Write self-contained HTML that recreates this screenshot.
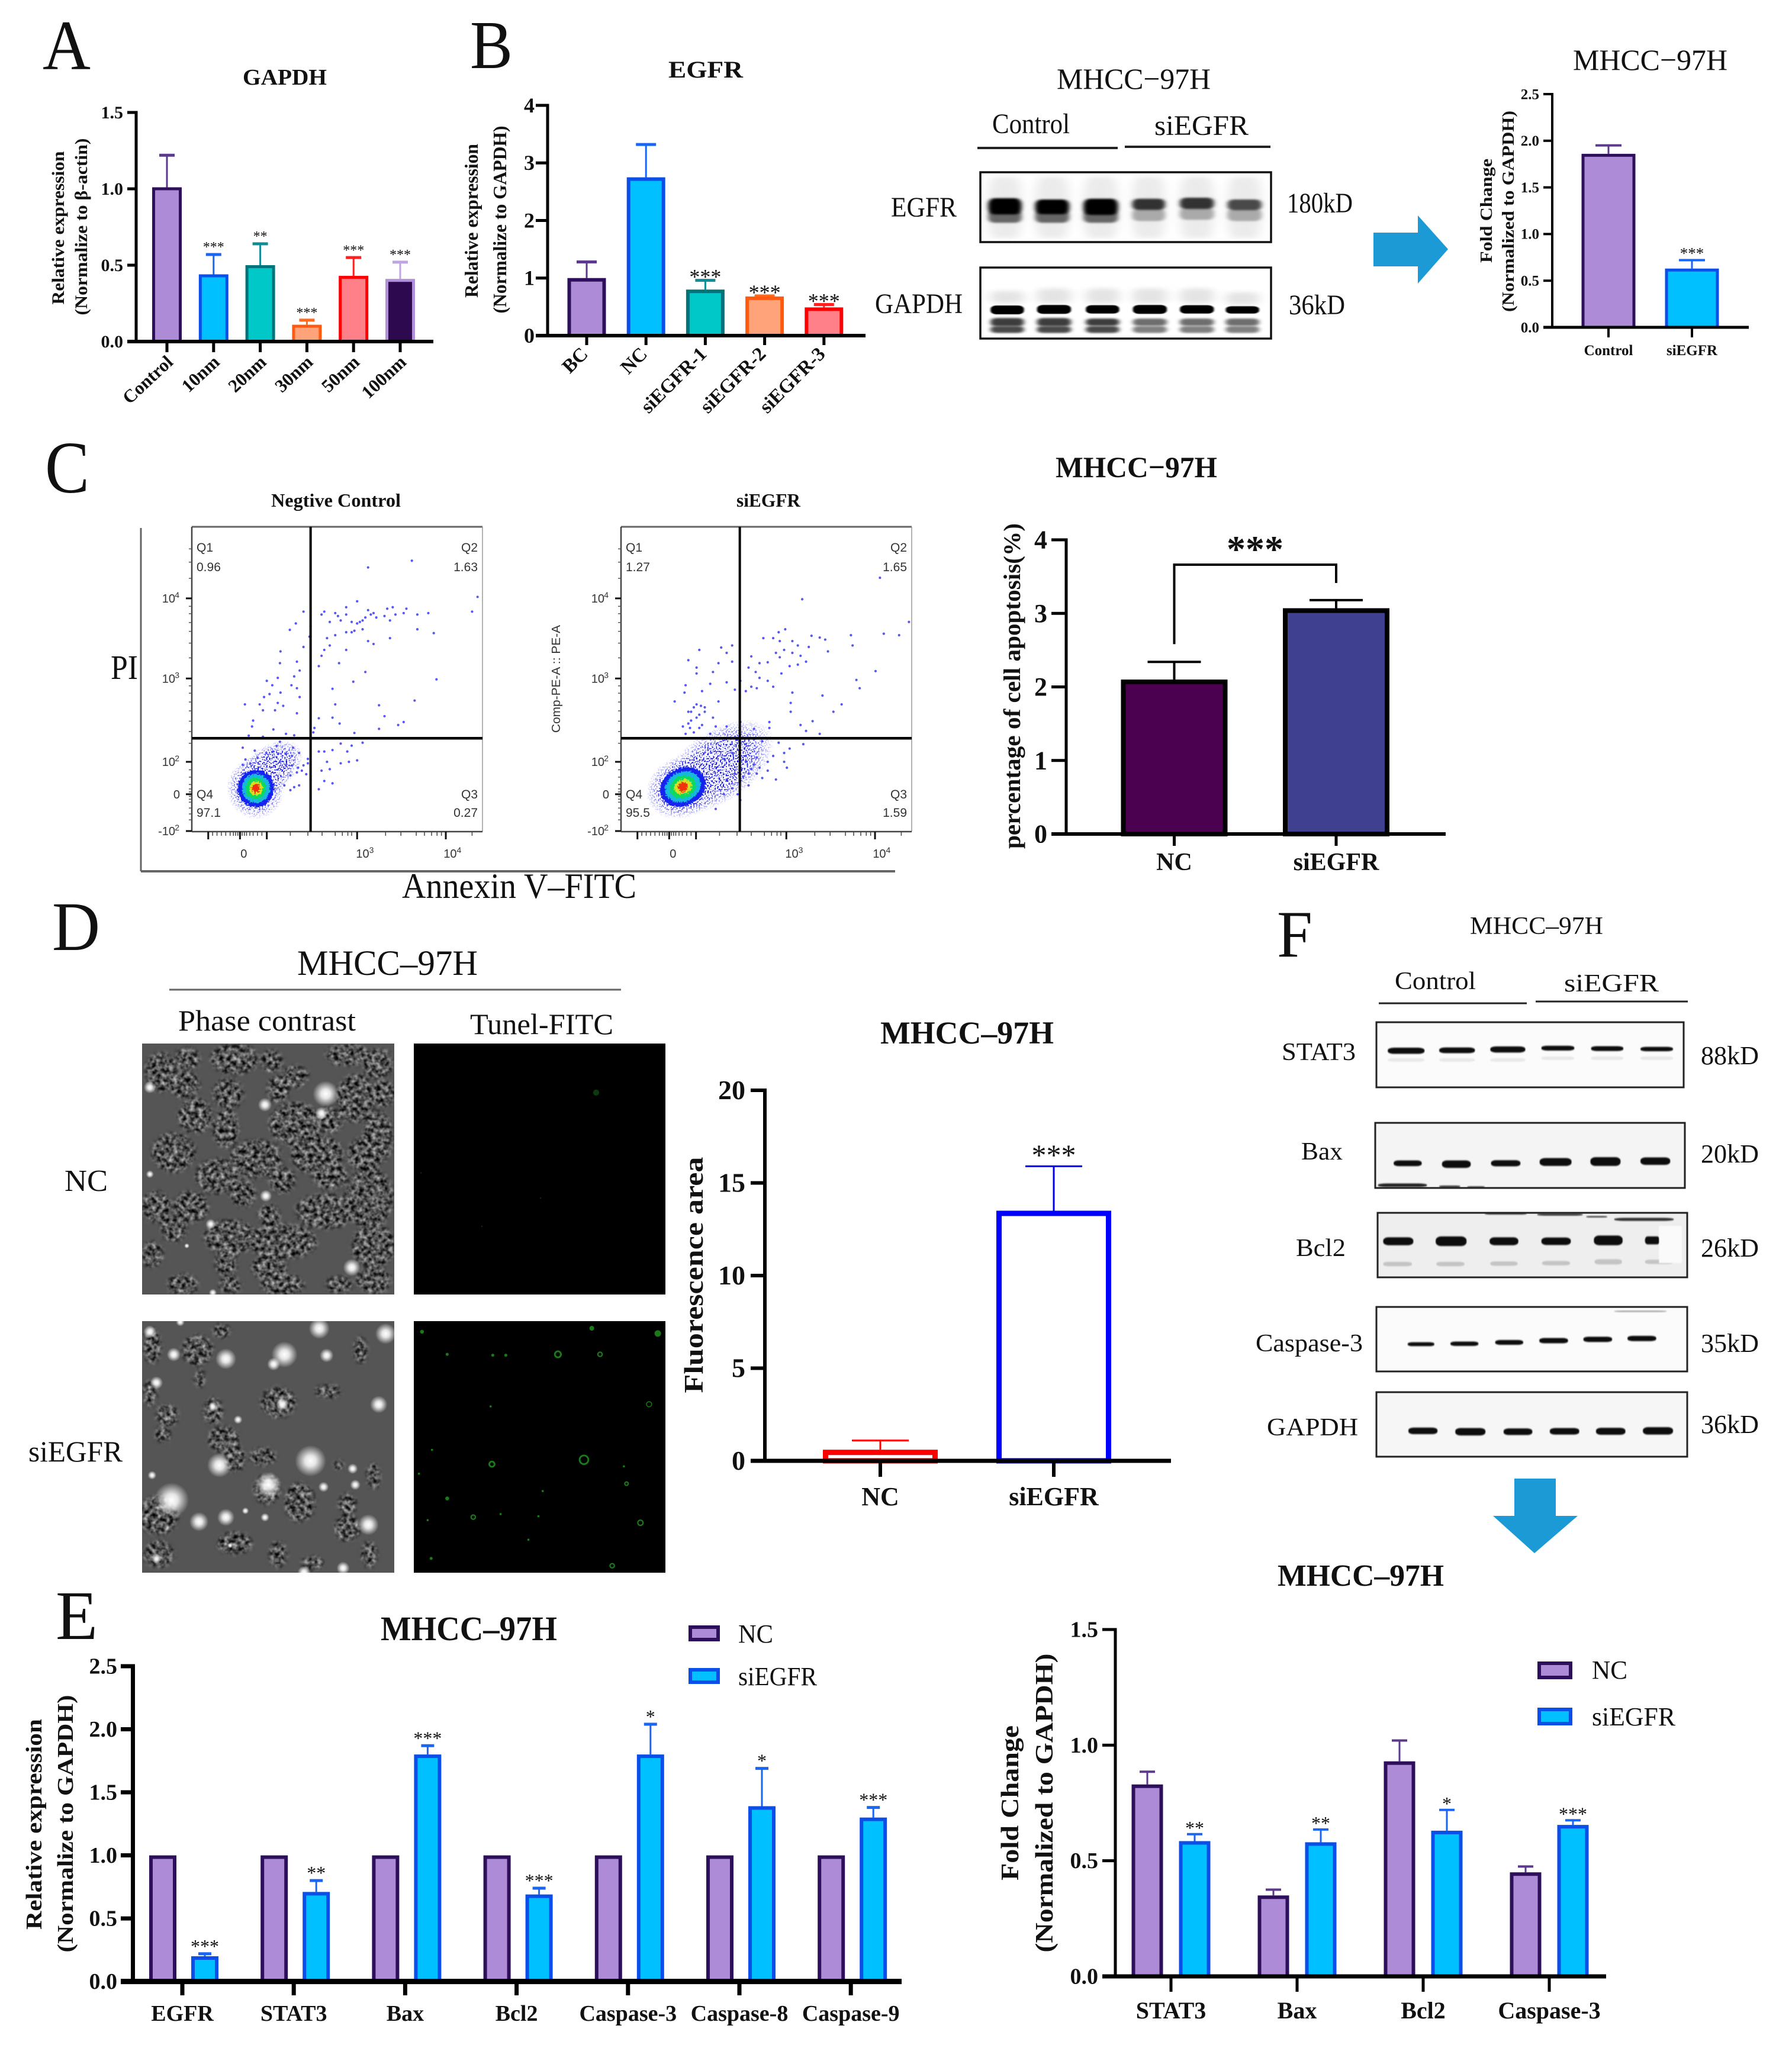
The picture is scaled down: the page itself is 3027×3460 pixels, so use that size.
<!DOCTYPE html>
<html lang="en">
<head>
<meta charset="utf-8">
<title>EGFR knockdown figure, panels A to F</title>
<style>
html,body{margin:0;padding:0;background:#fff;}
svg{display:block;}
text{font-family:"Liberation Serif","Noto Serif CJK SC",serif;fill:#111;}
.sans{font-family:"Liberation Sans",sans-serif;fill:#333;}
.b{font-weight:bold;}
</style>
</head>
<body>
<svg id="figure" xmlns="http://www.w3.org/2000/svg" width="3027" height="3460" viewBox="0 0 3027 3460">
<defs>
  <filter id="b1" x="-30%" y="-60%" width="160%" height="220%"><feGaussianBlur stdDeviation="1.5"/></filter>
  <filter id="b2" x="-30%" y="-80%" width="160%" height="260%"><feGaussianBlur stdDeviation="4"/></filter>
  <filter id="b3" x="-30%" y="-30%" width="160%" height="160%"><feGaussianBlur stdDeviation="9"/></filter>
  <filter id="b6" x="-20%" y="-20%" width="140%" height="140%"><feGaussianBlur stdDeviation="5"/></filter>
  <filter id="cellTex" x="0" y="0" width="100%" height="100%" color-interpolation-filters="sRGB">
    <feTurbulence type="fractalNoise" baseFrequency="0.14" numOctaves="2" seed="7"/>
    <feColorMatrix type="matrix" values="1.3 0 0 0 -0.32  1.3 0 0 0 -0.32  1.3 0 0 0 -0.32  0 0 0 0 1"/>
    <feGaussianBlur stdDeviation="0.8"/>
  </filter>
  <filter id="jag" x="-30%" y="-30%" width="160%" height="160%">
    <feTurbulence type="fractalNoise" baseFrequency="0.4" numOctaves="1" seed="4" result="n"/>
    <feDisplacementMap in="SourceGraphic" in2="n" scale="10" xChannelSelector="R" yChannelSelector="G"/>
  </filter>
  <filter id="speckle" x="-10%" y="-10%" width="120%" height="120%" color-interpolation-filters="sRGB">
    <feTurbulence type="fractalNoise" baseFrequency="0.42" numOctaves="1" seed="9" result="n"/>
    <feColorMatrix in="n" type="matrix" values="0 0 0 0 0  0 0 0 0 0  0 0 0 0 0  10 0 0 0 -5.1" result="m"/>
    <feComposite in="SourceGraphic" in2="m" operator="in"/>
  </filter>
  <radialGradient id="blueFade"><stop offset="0" stop-color="#1414ee"/><stop offset=".55" stop-color="#1414ee"/><stop offset="1" stop-color="#1414ee" stop-opacity="0"/></radialGradient>
  <radialGradient id="glow"><stop offset="0" stop-color="#fff"/><stop offset=".35" stop-color="#fff" stop-opacity=".85"/><stop offset="1" stop-color="#fff" stop-opacity="0"/></radialGradient>
  <mask id="maskNC" maskUnits="userSpaceOnUse" x="240" y="1763" width="426" height="424">
    <g transform="translate(240,1763) scale(.7334) translate(-327,-304)" fill="#fff" filter="url(#b6)">
      <ellipse cx="370" cy="370" rx="35" ry="45"/><ellipse cx="430" cy="340" rx="30" ry="25"/><ellipse cx="540" cy="340" rx="55" ry="35"/><ellipse cx="625" cy="345" rx="25" ry="25"/><ellipse cx="680" cy="380" rx="30" ry="25"/><ellipse cx="800" cy="330" rx="50" ry="25"/><ellipse cx="870" cy="350" rx="35" ry="35"/><ellipse cx="425" cy="400" rx="35" ry="30"/><ellipse cx="525" cy="420" rx="35" ry="35"/><ellipse cx="640" cy="410" rx="25" ry="30"/><ellipse cx="820" cy="430" rx="45" ry="55"/><ellipse cx="880" cy="420" rx="30" ry="30"/><ellipse cx="450" cy="470" rx="40" ry="40"/><ellipse cx="520" cy="500" rx="30" ry="45"/><ellipse cx="680" cy="490" rx="60" ry="50"/><ellipse cx="760" cy="480" rx="30" ry="30"/><ellipse cx="870" cy="520" rx="35" ry="60"/><ellipse cx="400" cy="555" rx="50" ry="45"/><ellipse cx="500" cy="610" rx="50" ry="40"/><ellipse cx="590" cy="570" rx="60" ry="45"/><ellipse cx="730" cy="560" rx="60" ry="45"/><ellipse cx="840" cy="560" rx="40" ry="40"/><ellipse cx="650" cy="620" rx="30" ry="30"/><ellipse cx="760" cy="610" rx="40" ry="30"/><ellipse cx="850" cy="660" rx="55" ry="70"/><ellipse cx="360" cy="680" rx="35" ry="35"/><ellipse cx="440" cy="680" rx="40" ry="35"/><ellipse cx="560" cy="650" rx="30" ry="30"/><ellipse cx="750" cy="690" rx="70" ry="40"/><ellipse cx="620" cy="700" rx="25" ry="25"/><ellipse cx="400" cy="730" rx="30" ry="30"/><ellipse cx="530" cy="750" rx="60" ry="40"/><ellipse cx="650" cy="760" rx="80" ry="40"/><ellipse cx="860" cy="770" rx="50" ry="50"/><ellipse cx="520" cy="810" rx="25" ry="30"/><ellipse cx="620" cy="820" rx="40" ry="30"/><ellipse cx="350" cy="790" rx="25" ry="30"/><ellipse cx="420" cy="860" rx="35" ry="25"/><ellipse cx="530" cy="860" rx="25" ry="20"/><ellipse cx="650" cy="860" rx="50" ry="25"/><ellipse cx="780" cy="860" rx="30" ry="20"/><ellipse cx="860" cy="850" rx="40" ry="30"/>
    </g>
  </mask>
  <mask id="maskSi" maskUnits="userSpaceOnUse" x="240" y="2232" width="426" height="425">
    <g transform="translate(240,2232) scale(.7334) translate(-327,-943)" fill="#fff" filter="url(#b6)">
      <ellipse cx="455" cy="1010" rx="35" ry="35"/><ellipse cx="350" cy="1000" rx="20" ry="40"/><ellipse cx="510" cy="965" rx="20" ry="15"/><ellipse cx="830" cy="1010" rx="15" ry="30"/><ellipse cx="640" cy="1130" rx="40" ry="35"/><ellipse cx="755" cy="1105" rx="30" ry="15"/><ellipse cx="490" cy="1150" rx="22" ry="30"/><ellipse cx="345" cy="1110" rx="15" ry="30"/><ellipse cx="385" cy="1160" rx="25" ry="25"/><ellipse cx="515" cy="1215" rx="35" ry="30"/><ellipse cx="375" cy="1205" rx="18" ry="18"/><ellipse cx="540" cy="1260" rx="25" ry="30"/><ellipse cx="605" cy="1255" rx="30" ry="20"/><ellipse cx="615" cy="1330" rx="30" ry="35"/><ellipse cx="690" cy="1360" rx="35" ry="45"/><ellipse cx="800" cy="1365" rx="20" ry="25"/><ellipse cx="860" cy="1300" rx="15" ry="30"/><ellipse cx="780" cy="1275" rx="12" ry="10"/><ellipse cx="365" cy="1390" rx="45" ry="45"/><ellipse cx="540" cy="1455" rx="40" ry="25"/><ellipse cx="365" cy="1480" rx="35" ry="30"/><ellipse cx="800" cy="1420" rx="30" ry="30"/><ellipse cx="850" cy="1480" rx="18" ry="30"/><ellipse cx="640" cy="1480" rx="20" ry="30"/><ellipse cx="720" cy="1500" rx="25" ry="15"/><ellipse cx="460" cy="1075" rx="12" ry="20"/>
    </g>
  </mask>
</defs>

<rect width="3027" height="3460" fill="#fff"/>

<!-- panel letters -->
<text x="72" y="117" font-size="120" textLength="81" lengthAdjust="spacingAndGlyphs">A</text>
<text x="794" y="115" font-size="115" textLength="72" lengthAdjust="spacingAndGlyphs">B</text>
<text x="76" y="832" font-size="125" textLength="75" lengthAdjust="spacingAndGlyphs">C</text>
<text x="88" y="1605" font-size="118" textLength="81" lengthAdjust="spacingAndGlyphs">D</text>
<text x="94" y="2769" font-size="118" textLength="71" lengthAdjust="spacingAndGlyphs">E</text>
<text x="2157" y="1616" font-size="112" textLength="60" lengthAdjust="spacingAndGlyphs">F</text>

<!-- panel A / B static text -->
<text class="b" x="410" y="143" font-size="38" textLength="142" lengthAdjust="spacingAndGlyphs">GAPDH</text>
<text class="b" x="1129" y="131" font-size="40" textLength="126" lengthAdjust="spacingAndGlyphs">EGFR</text>
<text class="b" text-anchor="middle" font-size="30" textLength="259" lengthAdjust="spacingAndGlyphs" transform="translate(108,385) rotate(-90)">Relative expression</text>
<text class="b" text-anchor="middle" font-size="30" textLength="299" lengthAdjust="spacingAndGlyphs" transform="translate(147,383) rotate(-90)">(Normalize to β-actin)</text>
<text class="b" text-anchor="middle" font-size="32" textLength="260" lengthAdjust="spacingAndGlyphs" transform="translate(807,373) rotate(-90)">Relative expression</text>
<text class="b" text-anchor="middle" font-size="32" textLength="317" lengthAdjust="spacingAndGlyphs" transform="translate(855,371) rotate(-90)">(Normalize to GAPDH)</text>

<!-- western blot, panel B -->
<text x="1785" y="150" font-size="50" textLength="260" lengthAdjust="spacingAndGlyphs">MHCC−97H</text>
<text x="1676" y="225" font-size="48" textLength="131" lengthAdjust="spacingAndGlyphs">Control</text>
<text x="1950" y="228" font-size="48" textLength="159" lengthAdjust="spacingAndGlyphs">siEGFR</text>
<line x1="1651" y1="250" x2="1888" y2="250" stroke="#222" stroke-width="4"/>
<line x1="1900" y1="248" x2="2146" y2="248" stroke="#222" stroke-width="4"/>
<rect x="1656" y="291" width="491" height="118" fill="#fff"/>
<rect x="1656" y="452" width="491" height="120" fill="#fff"/>
<g id="blotB" transform="translate(1450,50) scale(1.00573,0.41467)"></g>
<rect x="1656" y="291" width="491" height="118" fill="none" stroke="#111" stroke-width="3.5"/>
<rect x="1656" y="452" width="491" height="120" fill="none" stroke="#111" stroke-width="3.5"/>
<text x="1505" y="366" font-size="48" textLength="111" lengthAdjust="spacingAndGlyphs">EGFR</text>
<text x="1478" y="529" font-size="48" textLength="148" lengthAdjust="spacingAndGlyphs">GAPDH</text>
<text x="2174" y="359" font-size="48" textLength="111" lengthAdjust="spacingAndGlyphs">180kD</text>
<text x="2177" y="531" font-size="48" textLength="95" lengthAdjust="spacingAndGlyphs">36kD</text>
<polygon points="2320,393 2395,393 2395,364 2446,421 2395,479 2395,450 2320,450" fill="#1b9ad6"/>
<text x="2657" y="118" font-size="50" textLength="261" lengthAdjust="spacingAndGlyphs">MHCC−97H</text>
<text class="b" text-anchor="middle" font-size="28" textLength="176" lengthAdjust="spacingAndGlyphs" transform="translate(2520,356) rotate(-90)">Fold Change</text>
<text class="b" text-anchor="middle" font-size="28" textLength="340" lengthAdjust="spacingAndGlyphs" transform="translate(2557,357) rotate(-90)">(Normalized to GAPDH)</text>

<!-- panel C static text -->
<text class="b" x="458" y="856" font-size="32" textLength="219" lengthAdjust="spacingAndGlyphs">Negtive Control</text>
<text class="b" x="1244" y="856" font-size="32" textLength="108" lengthAdjust="spacingAndGlyphs">siEGFR</text>
<text x="187" y="1147" font-size="58" textLength="46" lengthAdjust="spacingAndGlyphs">PI</text>
<text x="679" y="1517" font-size="60" textLength="396" lengthAdjust="spacingAndGlyphs">Annexin V–FITC</text>
<text class="sans" text-anchor="middle" font-size="20" textLength="182" lengthAdjust="spacingAndGlyphs" transform="translate(946,1147) rotate(-90)">Comp-PE-A :: PE-A</text>
<line x1="238" y1="892" x2="238" y2="1472" stroke="#666" stroke-width="3"/>
<line x1="238" y1="1472" x2="1512" y2="1472" stroke="#666" stroke-width="4"/>
<text class="b" x="1783" y="806" font-size="50" textLength="273" lengthAdjust="spacingAndGlyphs">MHCC−97H</text>
<text class="b" text-anchor="middle" font-size="40" textLength="550" lengthAdjust="spacingAndGlyphs" transform="translate(1723,1159) rotate(-90)">percentage of cell apoptosis(%)</text>

<!-- panel D -->
<text x="502" y="1647" font-size="60" textLength="305" lengthAdjust="spacingAndGlyphs">MHCC–97H</text>
<line x1="286" y1="1672" x2="1049" y2="1672" stroke="#666" stroke-width="3"/>
<text x="301" y="1741" font-size="50" textLength="300" lengthAdjust="spacingAndGlyphs">Phase contrast</text>
<text x="794" y="1747" font-size="50" textLength="242" lengthAdjust="spacingAndGlyphs">Tunel-FITC</text>
<text x="109" y="2012" font-size="52" textLength="73" lengthAdjust="spacingAndGlyphs">NC</text>
<text x="48" y="2469" font-size="50" textLength="159" lengthAdjust="spacingAndGlyphs">siEGFR</text>

<g>
  <rect x="240" y="1763" width="426" height="424" fill="#555"/>
  <rect x="240" y="1763" width="426" height="424" filter="url(#cellTex)" mask="url(#maskNC)"/>
  <g transform="translate(240,1763) scale(.7334) translate(-327,-304)" fill="url(#glow)">
    <circle cx="750" cy="420" r="30"/><circle cx="610" cy="445" r="16"/><circle cx="345" cy="405" r="14"/><circle cx="810" cy="820" r="20"/><circle cx="485" cy="720" r="12"/><circle cx="612" cy="655" r="14"/><circle cx="345" cy="605" r="9"/><circle cx="430" cy="770" r="6"/><circle cx="490" cy="878" r="9"/><circle cx="740" cy="465" r="15"/>
  </g>
</g>
<g>
  <rect x="240" y="2232" width="426" height="425" fill="#555"/>
  <rect x="240" y="2232" width="426" height="425" filter="url(#cellTex)" mask="url(#maskSi)"/>
  <g transform="translate(240,2232) scale(.7334) translate(-327,-943)" fill="url(#glow)">
    <circle cx="345" cy="968" r="15"/><circle cx="415" cy="945" r="10"/><circle cx="735" cy="960" r="24"/><circle cx="888" cy="972" r="24"/><circle cx="400" cy="1020" r="16"/><circle cx="520" cy="1030" r="24"/><circle cx="655" cy="1020" r="30"/><circle cx="630" cy="1042" r="15"/><circle cx="752" cy="1022" r="16"/><circle cx="360" cy="1085" r="15"/><circle cx="872" cy="1135" r="20"/><circle cx="490" cy="1140" r="11"/><circle cx="548" cy="1170" r="10"/><circle cx="650" cy="1135" r="15"/><circle cx="715" cy="1265" r="36"/><circle cx="505" cy="1275" r="28"/><circle cx="618" cy="1320" r="30"/><circle cx="395" cy="1355" r="40"/><circle cx="812" cy="1283" r="12"/><circle cx="818" cy="1320" r="12"/><circle cx="745" cy="1325" r="12"/><circle cx="458" cy="1405" r="22"/><circle cx="520" cy="1395" r="20"/><circle cx="848" cy="1412" r="24"/><circle cx="350" cy="1298" r="10"/><circle cx="790" cy="1512" r="15"/><circle cx="700" cy="1522" r="15"/><circle cx="360" cy="1490" r="12"/><circle cx="610" cy="1395" r="10"/><circle cx="565" cy="1380" r="8"/><circle cx="530" cy="1460" r="6"/>
  </g>
</g>
<rect x="699" y="1763" width="425" height="424" fill="#000"/>
<rect x="699" y="2232" width="425" height="425" fill="#000"/>
<g transform="translate(0,1540) scale(.7334)">
  <circle cx="1373" cy="417" r="7" fill="#0c3a0c"/><circle cx="970" cy="602" r="1.5" fill="#0c3a0c"/><circle cx="1245" cy="660" r="1.5" fill="#0c3a0c"/><circle cx="1110" cy="725" r="1.5" fill="#0c3a0c"/>
</g>
<g transform="translate(0,1540) scale(.7334)" fill="#1a7a1a" stroke="#1a7a1a">
  <circle cx="972" cy="968" r="4"/><circle cx="1030" cy="1020" r="3"/><circle cx="1135" cy="1022" r="3"/><circle cx="1165" cy="1022" r="3"/><circle cx="1285" cy="1020" r="7" fill="none" stroke-width="4"/><circle cx="1363" cy="960" r="5"/><circle cx="1515" cy="972" r="7"/><circle cx="1382" cy="1020" r="5" fill="none" stroke-width="3"/><circle cx="1495" cy="1135" r="6" fill="none" stroke-width="2"/><circle cx="1130" cy="1140" r="2"/><circle cx="995" cy="1240" r="2"/><circle cx="1133" cy="1273" r="6" fill="none" stroke-width="4"/><circle cx="1345" cy="1263" r="10" fill="none" stroke-width="4"/><circle cx="1443" cy="1318" r="4" fill="none" stroke-width="3"/><circle cx="1250" cy="1335" r="2"/><circle cx="1030" cy="1352" r="4"/><circle cx="1090" cy="1395" r="5" fill="none" stroke-width="3"/><circle cx="1153" cy="1388" r="2"/><circle cx="1240" cy="1393" r="2"/><circle cx="1475" cy="1408" r="6" fill="none" stroke-width="3"/><circle cx="1217" cy="1447" r="2"/><circle cx="993" cy="1490" r="3"/><circle cx="1410" cy="1507" r="5" fill="none" stroke-width="3"/><circle cx="985" cy="1402" r="2"/><circle cx="1437" cy="1278" r="2"/><circle cx="965" cy="1295" r="2"/>
</g>
<text class="b" x="1487" y="1763" font-size="54" textLength="293" lengthAdjust="spacingAndGlyphs">MHCC–97H</text>
<text class="b" text-anchor="middle" font-size="46" textLength="399" lengthAdjust="spacingAndGlyphs" transform="translate(1187,2154) rotate(-90)">Fluorescence area</text>

<!-- panel E static text -->
<text class="b" x="643" y="2771" font-size="58" textLength="298" lengthAdjust="spacingAndGlyphs">MHCC–97H</text>
<text class="b" text-anchor="middle" font-size="38" textLength="356" lengthAdjust="spacingAndGlyphs" transform="translate(70,3082) rotate(-90)">Relative expression</text>
<text class="b" text-anchor="middle" font-size="38" textLength="435" lengthAdjust="spacingAndGlyphs" transform="translate(123,3081) rotate(-90)">(Normalize to GAPDH)</text>
<rect x="1166" y="2749" width="47" height="21" fill="#ae8bd6" stroke="#2d0f5c" stroke-width="6"/>
<text x="1247" y="2775" font-size="44" textLength="59" lengthAdjust="spacingAndGlyphs">NC</text>
<rect x="1166" y="2821" width="47" height="21" fill="#00c0ff" stroke="#0b4ee8" stroke-width="6"/>
<text x="1247" y="2847" font-size="44" textLength="133" lengthAdjust="spacingAndGlyphs">siEGFR</text>

<!-- panel F blots -->
<text x="2483" y="1578" font-size="42" textLength="225" lengthAdjust="spacingAndGlyphs">MHCC–97H</text>
<text x="2356" y="1671" font-size="42" textLength="137" lengthAdjust="spacingAndGlyphs">Control</text>
<text x="2642" y="1675" font-size="42" textLength="160" lengthAdjust="spacingAndGlyphs">siEGFR</text>
<line x1="2329" y1="1695" x2="2579" y2="1695" stroke="#222" stroke-width="3"/>
<line x1="2594" y1="1692" x2="2851" y2="1692" stroke="#222" stroke-width="3"/>
<rect x="2325" y="1727" width="519" height="110" fill="#fbfbfb"/>
<rect x="2323" y="1897" width="523" height="110" fill="#f4f4f4"/>
<rect x="2327" y="2049" width="523" height="109" fill="#eeeeee"/>
<rect x="2325" y="2208" width="525" height="109" fill="#fbfbfb"/>
<rect x="2325" y="2352" width="525" height="109" fill="#f6f6f6"/>
<g id="blotF" transform="translate(2100,1520) scale(0.5912,0.7398)"></g>
<rect x="2325" y="1727" width="519" height="110" fill="none" stroke="#222" stroke-width="3"/>
<rect x="2323" y="1897" width="523" height="110" fill="none" stroke="#222" stroke-width="3"/>
<rect x="2327" y="2049" width="523" height="109" fill="none" stroke="#222" stroke-width="3"/>
<rect x="2325" y="2208" width="525" height="109" fill="none" stroke="#222" stroke-width="3"/>
<rect x="2325" y="2352" width="525" height="109" fill="none" stroke="#222" stroke-width="3"/>
<text x="2165" y="1791" font-size="42" textLength="125" lengthAdjust="spacingAndGlyphs">STAT3</text>
<text x="2198" y="1959" font-size="42" textLength="70" lengthAdjust="spacingAndGlyphs">Bax</text>
<text x="2189" y="2122" font-size="42" textLength="84" lengthAdjust="spacingAndGlyphs">Bcl2</text>
<text x="2121" y="2283" font-size="42" textLength="181" lengthAdjust="spacingAndGlyphs">Caspase-3</text>
<text x="2140" y="2425" font-size="42" textLength="154" lengthAdjust="spacingAndGlyphs">GAPDH</text>
<text x="2873" y="1798" font-size="44" textLength="98" lengthAdjust="spacingAndGlyphs">88kD</text>
<text x="2873" y="1964" font-size="44" textLength="98" lengthAdjust="spacingAndGlyphs">20kD</text>
<text x="2873" y="2123" font-size="44" textLength="98" lengthAdjust="spacingAndGlyphs">26kD</text>
<text x="2873" y="2284" font-size="44" textLength="98" lengthAdjust="spacingAndGlyphs">35kD</text>
<text x="2873" y="2421" font-size="44" textLength="98" lengthAdjust="spacingAndGlyphs">36kD</text>
<polygon points="2558,2498 2628,2498 2628,2561 2665,2561 2592,2624 2522,2561 2558,2561" fill="#1b9ad6"/>

<!-- panel F chart static text -->
<text class="b" x="2158" y="2679" font-size="52" textLength="281" lengthAdjust="spacingAndGlyphs">MHCC–97H</text>
<text class="b" text-anchor="middle" font-size="42" textLength="262" lengthAdjust="spacingAndGlyphs" transform="translate(1720,3046) rotate(-90)">Fold Change</text>
<text class="b" text-anchor="middle" font-size="42" textLength="505" lengthAdjust="spacingAndGlyphs" transform="translate(1778,3046) rotate(-90)">(Normalized to GAPDH)</text>
<rect x="2600" y="2810" width="53" height="24" fill="#ae8bd6" stroke="#2d0f5c" stroke-width="6"/>
<text x="2689" y="2836" font-size="44" textLength="60" lengthAdjust="spacingAndGlyphs">NC</text>
<rect x="2600" y="2888" width="53" height="24" fill="#00c0ff" stroke="#0b4ee8" stroke-width="6"/>
<text x="2689" y="2915" font-size="44" textLength="141" lengthAdjust="spacingAndGlyphs">siEGFR</text>

<g id="charts"></g>
</svg>

<script>
/* ---------- chart data ---------- */
const aCategories = ['Control','10nm','20nm','30nm','50nm','100nm'];
const aValues = [1.01,0.44,0.50,0.11,0.43,0.41];
const aErrorTops = [1.22,0.57,0.64,0.14,0.55,0.52];
const aSignificance = ['','***','**','***','***','***'];
const aTicks = [0,0.5,1,1.5];
const aTickLabels = ['0.0','0.5','1.0','1.5'];

const bCategories = ['BC','NC','siEGFR-1','siEGFR-2','siEGFR-3'];
const bValues = [1.0,2.75,0.80,0.68,0.49];
const bErrorTops = [1.28,3.32,0.96,0.69,0.54];
const bSignificance = ['','','***','***','***'];
const bTicks = [0,1,2,3,4];
const bTickLabels = ['0','1','2','3','4'];

const foldCategories = ['Control','siEGFR'];
const foldValues = [1.86,0.63];
const foldErrorTops = [1.95,0.72];
const foldSignificance = ['','***'];
const foldTicks = [0,0.5,1,1.5,2,2.5];
const foldTickLabels = ['0.0','0.5','1.0','1.5','2.0','2.5'];

const apoptosisCategories = ['NC','siEGFR'];
const apoptosisValues = [2.10,3.07];
const apoptosisErrorTops = [2.34,3.18];
const apoptosisTicks = [0,1,2,3,4];
const apoptosisTickLabels = ['0','1','2','3','4'];

const fluorCategories = ['NC','siEGFR'];
const fluorValues = [0.6,13.5];
const fluorErrorTops = [1.1,15.9];
const fluorSignificance = ['','***'];
const fluorTicks = [0,5,10,15,20];
const fluorTickLabels = ['0','5','10','15','20'];

const mrnaCategories = ['EGFR','STAT3','Bax','Bcl2','Caspase-3','Caspase-8','Caspase-9'];
const mrnaNC = [1,1,1,1,1,1,1];
const mrnaSi = [0.20,0.71,1.80,0.69,1.80,1.39,1.30];
const mrnaSiErrorTops = [0.22,0.80,1.87,0.74,2.04,1.69,1.38];
const mrnaSignificance = ['***','**','***','***','*','*','***'];
const mrnaTicks = [0,0.5,1,1.5,2,2.5];
const mrnaTickLabels = ['0.0','0.5','1.0','1.5','2.0','2.5'];

const proteinCategories = ['STAT3','Bax','Bcl2','Caspase-3'];
const proteinNC = [0.83,0.35,0.93,0.45];
const proteinNCErrorTops = [0.885,0.375,1.02,0.475];
const proteinSi = [0.585,0.58,0.63,0.655];
const proteinSiErrorTops = [0.615,0.635,0.72,0.675];
const proteinSignificance = ['**','**','*','***'];
const proteinTicks = [0,0.5,1,1.5];
const proteinTickLabels = ['0.0','0.5','1.0','1.5'];

/* flow cytometry: [Annexin channel, PI channel], channels span 0-531 and 0-1035 */
const flowNCEvents = [[322,897],[402,920],[522,797],[512,747],[242,747],[237,737],[262,742],[282,762],[302,782],[322,752],[332,742],[357,757],[367,762],[392,757],[387,742],[412,737],[432,742],[252,712],[272,717],[292,712],[307,712],[317,727],[337,727],[362,717],[412,687],[442,674],[247,657],[262,667],[282,677],[297,682],[312,687],[322,647],[332,637],[362,657],[242,617],[252,632],[237,597],[282,617],[302,707],[312,717],[327,737],[292,677],[267,732],[282,737],[352,732],[372,737],[204,747],[190,707],[179,685],[217,697],[215,662],[204,627],[162,612],[161,572],[192,577],[197,547],[187,527],[157,522],[137,512],[147,497],[182,497],[192,487],[142,467],[162,472],[197,457],[132,457],[157,437],[97,432],[124,432],[167,427],[130,412],[192,402],[112,377],[152,412],[232,562],[269,572],[317,542],[295,509],[257,485],[447,517],[407,445],[342,429],[262,432],[352,392],[257,387],[232,385],[387,372],[377,362],[270,367],[342,349],[297,335],[224,352],[222,337],[149,347],[172,332],[130,322],[187,327],[110,357],[272,299],[292,292],[312,302],[257,277],[242,272],[232,272],[284,272],[272,232],[302,242],[287,237],[247,237],[217,227],[212,232],[252,212],[237,207],[217,177],[242,172],[257,164],[232,144],[147,271],[158,265],[172,265],[183,257],[136,267],[120,251],[107,231],[98,245],[93,227],[161,237],[172,225],[183,225],[194,217],[204,225],[212,247],[192,201],[201,207],[209,195],[180,191],[196,157],[187,151],[180,141],[169,157],[155,291],[161,305],[185,285],[196,267],[104,326],[93,285],[115,275]];
const flowSiEvents = [[331,789],[526,712],[480,672],[508,667],[420,667],[423,632],[465,545],[430,515],[436,487],[473,862],[300,687],[288,677],[260,657],[278,657],[290,647],[313,647],[348,665],[363,659],[373,652],[378,612],[343,627],[323,632],[298,617],[283,607],[313,607],[328,597],[290,592],[238,595],[268,575],[253,572],[323,567],[338,577],[308,562],[233,557],[246,542],[293,537],[253,522],[218,512],[268,512],[238,492],[228,477],[208,482],[248,487],[278,492],[368,462],[313,472],[310,407],[310,437],[388,407],[403,432],[350,375],[338,342],[363,332],[271,372],[271,352],[218,372],[243,349],[328,362],[143,617],[183,625],[203,632],[123,582],[138,557],[138,537],[168,542],[178,572],[193,607],[203,577],[118,497],[163,502],[193,507],[148,477],[116,472],[178,442],[98,442],[138,432],[153,422],[123,407],[143,397],[128,377],[168,387],[113,357],[148,362],[173,357],[193,357],[133,337],[163,332],[118,332],[133,422],[128,407],[138,387],[123,367],[143,352],[153,407],[126,352],[146,427],[228,297],[258,307],[288,302],[308,282],[333,297],[298,267],[278,257],[248,252],[228,237],[268,237],[298,237],[218,217],[238,212],[268,207],[303,217],[258,182],[283,177],[233,157],[213,127],[218,107],[173,77],[218,247],[203,267],[188,247],[178,207],[193,177],[228,257],[243,227],[253,217],[208,197],[223,187],[203,147],[188,127],[218,172],[233,197],[248,197]];
const flowNCPopulation = [117,147];
const flowSiPopulation = [113,152];
const flowNCStats = ['0.96','1.63','0.27','97.1'];
const flowSiStats = ['1.27','1.65','1.59','95.5'];
const flowQuadrants = ['Q1','Q2','Q3','Q4'];
const flowYTickChannels = [2,127,237,520,792];
const flowYMinorChannels = [40,60,80,100,110,120,135,145,160,185,210,300,340,375,410,440,470,495,590,640,680,710,740,765,860,915,960];
const flowXTickChannels = [30,88,137,302,464];
const flowXMinorChannels = [38,46,54,62,70,76,80,84,92,96,100,106,112,120,128,180,212,238,262,275,285,292,354,382,410,425,438,448,456,512];

/* ---------- helpers ---------- */
const NS = 'http://www.w3.org/2000/svg';
const chartLayer = document.getElementById('charts');

function shape(tag, name, attrs, parent) {
  const el = document.createElementNS(NS, tag);
  for (const k in attrs) el.setAttribute(k, attrs[k]);
  
  
  parent.appendChild(el);
  return el;
}
function label(name, str, attrs, parent) {
  const el = shape('text', name, attrs, parent);
  el.textContent = str;
  return el;
}
function hv(name, x1, y1, x2, y2, stroke, w, parent) {
  return shape('line', name, {x1:x1, y1:y1, x2:x2, y2:y2, stroke:stroke, 'stroke-width':w}, parent);
}

/* Builds the y axis, the x axis and the category labels, returns scale + marks group. */
function makeAxes(c) {
  const g = shape('g', c.name, {}, chartLayer);
  const marks = shape('g', c.name + '-marks', {}, g);
  const y = v => c.y0 - (v / c.max) * (c.y0 - c.yTop);
  const x = i => c.x0 + i * c.dx;
  const axis = shape('g', c.name + '-axes', {}, g);
  hv(c.name + '-y-axis', c.axisX, c.y0, c.axisX, c.yTop - c.axisW / 2, '#000', c.axisW, axis);
  c.ticks.forEach((t, i) => {
    hv(c.name + '-y-tick', c.tickLeft, y(t), c.axisX, y(t), '#000', c.axisW, axis);
    label(c.name + '-y-tick-label', c.tickLabels[i], {
      x: c.tickLabelX, y: y(t) + c.tickFont * 0.33, 'font-size': c.tickFont,
      'font-weight': 'bold', 'text-anchor': 'end'
    }, axis);
  });
  hv(c.name + '-x-axis', c.tickLeft, c.y0, c.right, c.y0, '#000', c.baseW || c.axisW + 1, axis);
  c.categories.forEach((cat, i) => {
    hv(c.name + '-x-tick', x(i), c.y0, x(i), c.tickBottom, '#000', c.axisW, axis);
    if (c.rotate) {
      label(c.name + '-x-label', cat, {
        'font-size': c.catFont, 'font-weight': 'bold', 'text-anchor': 'end',
        transform: 'translate(' + (x(i) + c.catDx) + ',' + c.catY + ') rotate(' + c.rotate + ')'
      }, axis);
    } else {
      label(c.name + '-x-label', cat, {
        x: x(i), y: c.catY, 'font-size': c.catFont, 'font-weight': 'bold', 'text-anchor': 'middle'
      }, axis);
    }
  });
  return {g: marks, x: x, y: y};
}

/* One bar with its error whisker and significance stars, positioned through the axis scale. */
function drawBar(c, ax, barName, cx, value, errTop, style, sig) {
  const top = ax.y(value);
  const sw = c.barStroke;
  hv(barName + '-error-stem', cx, top, cx, ax.y(errTop), style.err, c.errW, ax.g);
  hv(barName + '-error-cap', cx - c.capHalf, ax.y(errTop), cx + c.capHalf, ax.y(errTop), style.err, c.capW || c.errW + 1, ax.g);
  shape('rect', barName, {
    x: cx - c.barW / 2 + sw / 2, y: top + sw / 2, width: c.barW - sw,
    height: Math.max(ax.y(0) - top - sw / 2, 0), fill: style.fill, stroke: style.stroke, 'stroke-width': sw
  }, ax.g);
  if (sig) {
    const centre = ax.y(errTop) - c.sigGap;
    label(barName + '-significance', sig, {
      x: cx, y: centre + c.sigFont * 0.47, 'font-size': c.sigFont, 'text-anchor': 'middle',
      fill: c.sigFill || '#444', 'font-weight': c.sigWeight || 'normal'
    }, ax.g);
  }
}

const purple = {fill:'#ae8bd6', stroke:'#2d0f5c', err:'#5b3a8c'};
const blue = {fill:'#00c0ff', stroke:'#0b4ee8', err:'#1a66f0'};
const teal = {fill:'#00c8c8', stroke:'#00747a', err:'#108c96'};
const orange = {fill:'#ffa37a', stroke:'#ff5a10', err:'#ff6a20'};
const pink = {fill:'#ff8088', stroke:'#ff0000', err:'#ff2020'};
const dark = {fill:'#2d0a50', stroke:'#b090d8', err:'#bfa6e0'};

/* panel A */
(function () {
  const c = {name:'gapdh-chart', categories:aCategories, ticks:aTicks, tickLabels:aTickLabels, max:1.5,
    axisX:230, y0:577, yTop:190, tickLeft:215, right:732, tickBottom:595, axisW:5, tickLabelX:208, tickFont:30,
    x0:282, dx:78.8, barW:50, barStroke:5, errW:3, capHalf:13, capW:5, sigGap:16, sigFont:24,
    rotate:-43, catDx:12, catY:614, catFont:31};
  const ax = makeAxes(c);
  const styles = [purple, blue, teal, orange, pink, dark];
  aValues.forEach((v, i) => drawBar(c, ax, 'gapdh-bar-' + aCategories[i], ax.x(i), v, aErrorTops[i], styles[i], aSignificance[i]));
})();

/* panel B, siRNA */
(function () {
  const c = {name:'egfr-chart', categories:bCategories, ticks:bTicks, tickLabels:bTickLabels, max:4,
    axisX:925, y0:567, yTop:178, tickLeft:905, right:1462, tickBottom:583, axisW:5, tickLabelX:903, tickFont:36,
    x0:991, dx:100.2, barW:65, barStroke:6, errW:3, capHalf:17, capW:5, sigGap:11, sigFont:36,
    rotate:-45, catDx:4, catY:600, catFont:33};
  const ax = makeAxes(c);
  const styles = [purple, blue, teal, orange, pink];
  bValues.forEach((v, i) => drawBar(c, ax, 'egfr-bar-' + bCategories[i], ax.x(i), v, bErrorTops[i], styles[i], bSignificance[i]));
})();

/* panel B, fold change */
(function () {
  const c = {name:'fold-change-chart', categories:foldCategories, ticks:foldTicks, tickLabels:foldTickLabels, max:2.5,
    axisX:2622, y0:553, yTop:159, tickLeft:2607, right:2954, tickBottom:570, axisW:4, tickLabelX:2600, tickFont:25,
    x0:2717, dx:141, barW:91, barStroke:5, errW:3, capHalf:22, capW:4, sigGap:15, sigFont:27,
    catY:600, catFont:25};
  const ax = makeAxes(c);
  drawBar(c, ax, 'fold-change-bar-control', ax.x(0), foldValues[0], foldErrorTops[0], purple, foldSignificance[0]);
  drawBar(c, ax, 'fold-change-bar-siegfr', ax.x(1), foldValues[1], foldErrorTops[1], blue, foldSignificance[1]);
})();

/* panel C, bar chart */
(function () {
  const c = {name:'apoptosis-chart', categories:apoptosisCategories, ticks:apoptosisTicks, tickLabels:apoptosisTickLabels, max:4,
    axisX:1801, y0:1409, yTop:912, tickLeft:1776, right:2442, tickBottom:1429, axisW:5, tickLabelX:1769, tickFont:44,
    x0:1983.5, dx:273.5, barW:180, barStroke:8, errW:4, capHalf:45, capW:4,
    catY:1470, catFont:42};
  const ax = makeAxes(c);
  drawBar(c, ax, 'apoptosis-bar-nc', ax.x(0), apoptosisValues[0], apoptosisErrorTops[0], {fill:'#4c0050', stroke:'#000', err:'#000'});
  drawBar(c, ax, 'apoptosis-bar-siegfr', ax.x(1), apoptosisValues[1], apoptosisErrorTops[1], {fill:'#3f4190', stroke:'#000', err:'#000'});
  const bracket = shape('path', 'significance-bracket', {
    d: 'M' + ax.x(0) + ' ' + (ax.y(apoptosisErrorTops[0]) - 30) + ' V954 H' + ax.x(1) + ' V' + (ax.y(apoptosisErrorTops[1]) - 29),
    fill:'none', stroke:'#000', 'stroke-width':4
  }, ax.g);
  bracket.setAttribute('stroke-linejoin', 'miter');
  label('apoptosis-significance', '***', {x:2120, y:949, 'font-size':64, 'font-weight':'bold', 'text-anchor':'middle', fill:'#111'}, ax.g);
})();

/* panel D, bar chart */
(function () {
  const c = {name:'fluorescence-chart', categories:fluorCategories, ticks:fluorTicks, tickLabels:fluorTickLabels, max:20,
    axisX:1292, y0:2468, yTop:1842, tickLeft:1268, right:1978, tickBottom:2495, axisW:6, tickLabelX:1259, tickFont:46,
    x0:1487, dx:293, barW:194, barStroke:9, errW:3, capHalf:48, capW:3, sigGap:26, sigFont:50, sigFill:'#111',
    catY:2543, catFont:44};
  const ax = makeAxes(c);
  drawBar(c, ax, 'fluorescence-bar-nc', ax.x(0), fluorValues[0], fluorErrorTops[0], {fill:'none', stroke:'#ff0000', err:'#ff0000'}, fluorSignificance[0]);
  drawBar(c, ax, 'fluorescence-bar-siegfr', ax.x(1), fluorValues[1], fluorErrorTops[1], {fill:'none', stroke:'#0000ff', err:'#0000ff'}, fluorSignificance[1]);
})();

/* panel E */
(function () {
  const c = {name:'mrna-chart', categories:mrnaCategories, ticks:mrnaTicks, tickLabels:mrnaTickLabels, max:2.5,
    axisX:224.5, y0:3347.6, yTop:2815, tickLeft:204, right:1523, tickBottom:3371, axisW:7, baseW:9, tickLabelX:198, tickFont:38,
    x0:308, dx:188.2, barW:46, barStroke:6, errW:3, capHalf:11, capW:5, sigGap:17, sigFont:32,
    catY:3414, catFont:38};
  const ax = makeAxes(c);
  mrnaCategories.forEach((cat, i) => {
    const ncBar = shape('rect', 'mrna-bar-nc-' + cat, {
      x: ax.x(i) - 56 + 3, y: ax.y(mrnaNC[i]) + 3, width: 40, height: ax.y(0) - ax.y(mrnaNC[i]) - 3,
      fill: purple.fill, stroke: purple.stroke
    }, ax.g);
    ncBar.setAttribute('stroke-width', 6);
    drawBar(c, ax, 'mrna-bar-siegfr-' + cat, ax.x(i) + 38, mrnaSi[i], mrnaSiErrorTops[i], blue, mrnaSignificance[i]);
  });
})();

/* panel F chart */
(function () {
  const c = {name:'protein-chart', categories:proteinCategories, ticks:proteinTicks, tickLabels:proteinTickLabels, max:1.5,
    axisX:1884, y0:3339, yTop:2753, tickLeft:1862, right:2713, tickBottom:3365, axisW:5, baseW:7, tickLabelX:1855, tickFont:38,
    x0:1978, dx:213, barW:53, barStroke:6, errW:3, capHalf:13, capW:4, sigGap:15, sigFont:32,
    catY:3410, catFont:40};
  const ax = makeAxes(c);
  proteinCategories.forEach((cat, i) => {
    drawBar(c, ax, 'protein-bar-nc-' + cat, ax.x(i) - 40, proteinNC[i], proteinNCErrorTops[i], purple, '');
    drawBar(c, ax, 'protein-bar-siegfr-' + cat, ax.x(i) + 40, proteinSi[i], proteinSiErrorTops[i], blue, proteinSignificance[i]);
  });
})();

/* panel C, flow plots */
function flowPlot(name, left, events, population, stats, pop) {
  const top = 890, w = 491, h = 515;
  const g = shape('g', name, {}, chartLayer);
  const px = v => left + v / 531 * w;
  const py = v => top + h - v / 1035 * h;

  const popX = px(population[0]), popY = py(population[1]);
  const halo = shape('g', name + '-density-halo', {filter:'url(#speckle)', fill:'url(#blueFade)'}, g);
  const tx = popX + pop.tailDx, ty = popY + pop.tailDy;
  shape('ellipse', name + '-density-tail', {cx:tx, cy:ty, rx:pop.tailRx, ry:pop.tailRy, transform:'rotate(-35 ' + tx + ' ' + ty + ')'}, halo);
  shape('ellipse', name + '-density-outer', {cx:popX, cy:popY, rx:pop.rx * 1.3, ry:pop.ry * 1.3, transform:'rotate(' + pop.tilt + ' ' + popX + ' ' + popY + ')'}, halo);
  const core = shape('g', name + '-density-core', {filter:'url(#jag)', transform:'rotate(' + pop.tilt + ' ' + popX + ' ' + popY + ')'}, g);
  shape('ellipse', name + '-density-blue', {cx:popX, cy:popY, rx:pop.rx * 0.8, ry:pop.ry * 0.8, fill:'#1424ee'}, core);
  shape('ellipse', name + '-density-cyan', {cx:popX, cy:popY, rx:pop.rx * 0.62, ry:pop.ry * 0.62, fill:'#12b8e0'}, core);
  shape('ellipse', name + '-density-green', {cx:popX, cy:popY, rx:pop.rx * 0.46, ry:pop.ry * 0.46, fill:'#10d860'}, core);
  shape('ellipse', name + '-density-yellow', {cx:popX, cy:popY, rx:pop.rx * 0.3, ry:pop.ry * 0.3, fill:'#d8e020'}, core);
  shape('ellipse', name + '-density-red', {cx:popX, cy:popY, rx:pop.rx * 0.17, ry:pop.ry * 0.19, fill:'#f03010'}, core);

  const dots = shape('g', name + '-events', {fill:'#3a3af2', 'fill-opacity':0.85}, g);
  events.forEach(e => {
    shape('circle', name + '-event', {cx:px(e[0]), cy:py(e[1]), r:2.1}, dots);
  });

  hv(name + '-frame-top', left, top, left + w, top, '#666', 3, g);
  hv(name + '-frame-right', left + w, top, left + w, top + h, '#999', 1.5, g);
  hv(name + '-frame-left', left, top, left, top + h, '#444', 2.5, g);
  hv(name + '-frame-bottom', left, top + h, left + w, top + h, '#444', 2.5, g);
  hv(name + '-vertical-gate', px(217), top, px(217), top + h, '#000', 4, g);
  hv(name + '-horizontal-gate', left, py(317), left + w, py(317), '#000', 4.5, g);

  flowYTickChannels.forEach(t => hv(name + '-y-major-tick', left - 10, py(t), left, py(t), '#111', 3, g));
  flowYMinorChannels.forEach(t => hv(name + '-y-minor-tick', left - 5, py(t), left, py(t), '#555', 1.5, g));
  flowXTickChannels.forEach(t => hv(name + '-x-major-tick', px(t), top + h, px(t), top + h + 13, '#111', 3, g));
  flowXMinorChannels.forEach(t => hv(name + '-x-minor-tick', px(t), top + h, px(t), top + h + 7, '#444', 1.5, g));

  const yNames = [['-10','2'],['0',''],['10','2'],['10','3'],['10','4']];
  flowYTickChannels.forEach((t, i) => {
    const tl = label(name + '-y-tick-label', yNames[i][0], {x:left - 20, y:py(t) + 7, 'font-size':20, 'text-anchor':'end', class:'sans'}, g);
    if (yNames[i][1]) {
      tl.setAttribute('x', left - 28);
      const sup = shape('text', name + '-y-tick-exponent', {x:left - 21, y:py(t) - 1, 'font-size':14, class:'sans', 'text-anchor':'end'}, g);
      sup.textContent = yNames[i][1];
    }
  });
  label(name + '-x-tick-label', '0', {x:px(95), y:top + h + 44, 'font-size':20, 'text-anchor':'middle', class:'sans'}, g);
  ['3','4'].forEach((exp, i) => {
    const lx = px(i === 0 ? 312 : 472);
    label(name + '-x-tick-label', '10', {x:lx, y:top + h + 44, 'font-size':20, 'text-anchor':'middle', class:'sans'}, g);
    label(name + '-x-tick-exponent', exp, {x:lx + 15, y:top + h + 36, 'font-size':14, 'text-anchor':'middle', class:'sans'}, g);
  });

  const qx = [left + 8, left + w - 8, left + w - 8, left + 8];
  const qAnchor = ['start', 'end', 'end', 'start'];
  const qy = [924, 924, 1341, 1341];
  const vy = [957, 957, 1372, 1372];
  flowQuadrants.forEach((q, i) => {
    label(name + '-quadrant-name', q, {x:qx[i], y:qy[i] + 8, 'font-size':21, 'text-anchor':qAnchor[i], class:'sans'}, g);
    label(name + '-quadrant-value', stats[i], {x:qx[i], y:vy[i] + 8, 'font-size':21, 'text-anchor':qAnchor[i], class:'sans'}, g);
  });
}
flowPlot('flow-negative-control', 324, flowNCEvents, flowNCPopulation, flowNCStats,
  {rx:38, ry:40, tilt:0, tailDx:24, tailDy:-34, tailRx:62, tailRy:38});
flowPlot('flow-siegfr', 1049, flowSiEvents, flowSiPopulation, flowSiStats,
  {rx:50, ry:40, tilt:-25, tailDx:58, tailDy:-34, tailRx:110, tailRy:60});

/* blot bands, drawn as image content in zoomed-image coordinates */
function bands(parent, name, list, fill, blur) {
  list.forEach(b => {
    shape('rect', name, {x:b[0], y:b[1] - b[3] / 2, width:b[2], height:b[3], rx:b[2] * 0.18, ry:b[3] * 0.4, fill:fill, filter:'url(#' + blur + ')'}, parent);
  });
}
const blotB = document.getElementById('blotB');
bands(blotB, 'egfr-lane-haze', [[218,725,56,250],[297,725,57,250],[378,725,58,250],[460,725,55,250],[540,725,57,250],[620,725,57,250]], '#ebebeb', 'b3');
bands(blotB, 'egfr-lower-smear', [[218,762,56,50],[297,762,57,50],[378,762,58,50]], '#666', 'b2');
bands(blotB, 'egfr-lower-smear', [[460,755,55,50],[540,750,57,50],[620,755,57,50]], '#aaa', 'b2');
bands(blotB, 'egfr-band-control', [[218,720,56,66],[297,722,57,60],[378,722,58,66]], '#000', 'b2');
bands(blotB, 'egfr-band-siegfr', [[460,712,55,46],[540,708,57,46]], '#333', 'b2');
bands(blotB, 'egfr-band-siegfr', [[620,714,57,44]], '#4a4a4a', 'b2');
bands(blotB, 'gapdh-lane-haze', [[222,1090,56,50],[300,1085,57,60],[382,1085,56,60],[461,1085,57,60],[540,1085,57,60],[617,1095,56,50]], '#e4e4e4', 'b3');
bands(blotB, 'gapdh-band', [[222,1142,56,36],[300,1140,57,36],[382,1140,56,34],[461,1140,57,36],[540,1140,57,34],[617,1142,56,30]], '#000', 'b1');
bands(blotB, 'gapdh-lower-band', [[222,1192,56,34],[300,1192,57,34],[382,1192,56,30]], '#3c3c3c', 'b2');
bands(blotB, 'gapdh-lower-band', [[461,1192,57,30],[540,1192,57,30],[617,1192,56,30]], '#6e6e6e', 'b2');
bands(blotB, 'gapdh-lowest-band', [[222,1222,56,28],[300,1222,57,28],[382,1222,56,28]], '#4a4a4a', 'b2');
bands(blotB, 'gapdh-lowest-band', [[461,1222,57,28],[540,1222,57,28],[617,1222,56,28]], '#808080', 'b2');

const blotF = document.getElementById('blotF');
bands(blotF, 'stat3-faint-band', [[413,366,105,8],[560,366,102,8],[706,366,100,8],[852,362,94,8],[994,362,92,8],[1135,362,93,8]], '#e8e8e8', 'b1');
bands(blotF, 'stat3-band', [[413,345,105,14],[560,344,102,13],[706,342,100,14],[852,339,94,11],[994,340,92,11],[1135,341,93,10]], '#111', 'b1');
bands(blotF, 'bax-band', [[430,602,80,13],[568,604,82,17],[708,602,84,14],[847,599,91,18],[992,598,86,20],[1135,597,85,17]], '#0a0a0a', 'b1');
bands(blotF, 'bax-lower-smear', [[385,652,140,8],[560,655,60,4],[640,656,50,3]], '#222', 'b1');
bands(blotF, 'bcl2-top-smear', [[690,717,120,4],[840,719,130,5],[980,724,60,3],[1060,730,170,7]], '#333', 'b1');
bands(blotF, 'bcl2-band', [[400,780,86,18],[550,780,88,22],[704,780,82,18],[852,780,84,17],[1002,778,82,22],[1148,778,42,18]], '#0a0a0a', 'b1');
bands(blotF, 'bcl2-faint-band', [[400,832,82,10],[552,832,80,10],[706,831,78,10],[854,830,80,10],[1004,827,78,12],[1148,827,80,10]], '#c4c4c4', 'b1');
shape('rect', 'bcl2-erased-patch', {x:1188, y:745, width:65, height:85, fill:'#fafafa', filter:'url(#b1)'}, blotF);
bands(blotF, 'caspase-3-band', [[470,1015,76,9],[592,1014,80,10],[720,1011,80,11],[846,1007,82,12],[972,1004,82,12],[1098,1002,82,12]], '#0f0f0f', 'b1');
bands(blotF, 'caspase-3-top-smear', [[1060,940,150,3]], '#999', 'b1');
bands(blotF, 'gapdh-band', [[472,1213,83,15],[606,1215,86,17],[744,1215,82,15],[876,1214,84,15],[1008,1214,84,16],[1142,1213,86,17]], '#0a0a0a', 'b1');
</script>
</body>
</html>
